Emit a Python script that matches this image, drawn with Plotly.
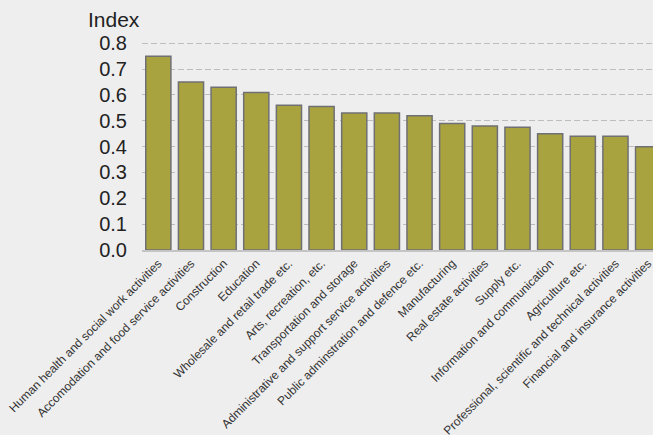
import plotly.graph_objects as go

# Industry categories, in descending order of index value
industries = [
    "Human health and social work activities",
    "Accomodation and food service activities",
    "Construction",
    "Education",
    "Wholesale and retail trade etc.",
    "Arts, recreation, etc.",
    "Transportation and storage",
    "Administrative and support service activities",
    "Public adminstration and defence etc.",
    "Manufacturing",
    "Real estate activities",
    "Supply etc.",
    "Information and communication",
    "Agriculture etc.",
    "Professional, scientific and technical activities",
    "Financial and insurance activities",
]
index_values = [0.75, 0.65, 0.63, 0.61, 0.56, 0.555, 0.53, 0.53, 0.52,
                0.49, 0.48, 0.475, 0.45, 0.44, 0.44, 0.40]
y_ticks = [0.0, 0.1, 0.2, 0.3, 0.4, 0.5, 0.6, 0.7, 0.8]

BG = "#eeeeee"

fig = go.Figure(
    go.Bar(
        x=list(range(len(industries))),
        y=index_values,
        width=0.77,
        marker=dict(color="#a8a33f", line=dict(color="#707074", width=1.5)),
        hoverinfo="skip",
    )
)

fig.update_layout(
    width=653,
    height=435,
    margin=dict(l=142, r=0, t=42, b=185),
    paper_bgcolor=BG,
    plot_bgcolor=BG,
    showlegend=False,
    font=dict(family="Liberation Sans, Arial, sans-serif", color="#222222"),
)

fig.update_xaxes(
    automargin=False,
    tickmode="array",
    tickvals=list(range(len(industries))),
    ticktext=industries,
    tickangle=-45,
    tickfont=dict(size=12, color="#333333"),
    ticklabeloverflow="allow",
    range=[-0.5, 15.15],
    showgrid=False,
    showline=True,
    linecolor="#c4c4c4",
    linewidth=1.5,
    ticks="",
    zeroline=False,
)

fig.update_yaxes(
    automargin=False,
    range=[0, 0.805],
    tickmode="array",
    tickvals=y_ticks,
    ticktext=[f"{v:.1f}" for v in y_ticks],
    tickfont=dict(size=20, color="#222222"),
    showgrid=True,
    gridcolor="#bdbdbd",
    griddash="6px,3px",
    gridwidth=1,
    zeroline=False,
    showline=False,
    ticks="",
    ticklabelstandoff=14,
)

fig.add_annotation(
    text="Index",
    xref="paper", yref="paper",
    x=0.0, y=1.0,
    xanchor="right", yanchor="bottom",
    yshift=9,
    showarrow=False,
    font=dict(size=21, color="#222222"),
)

fig.write_html("out.html")
